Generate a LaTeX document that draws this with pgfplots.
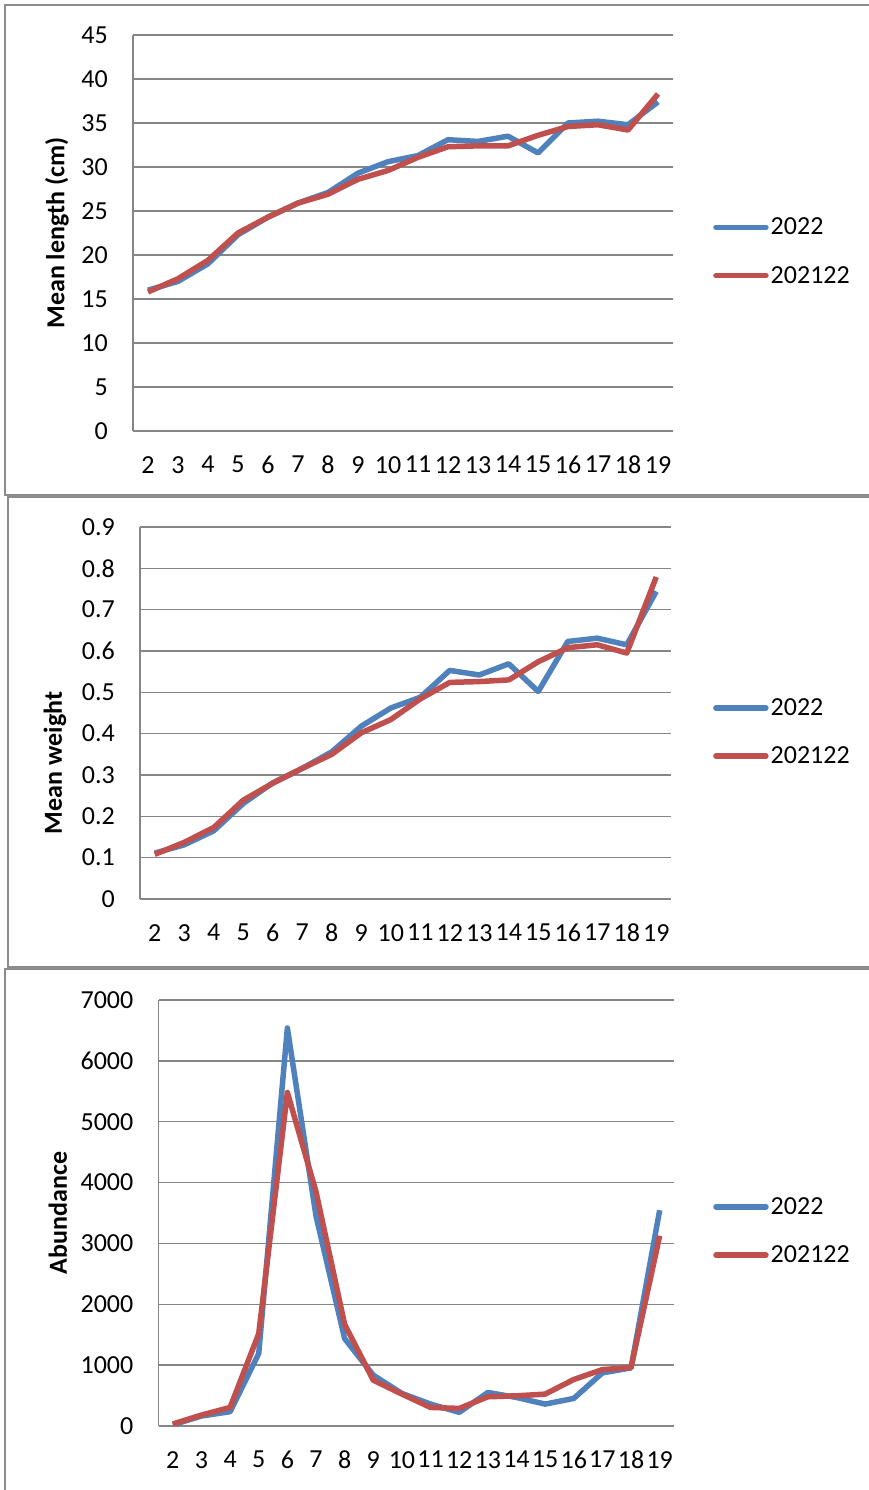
\documentclass[border=0pt]{standalone}
\usepackage{pgfplots}
\pgfplotsset{compat=1.18}
\usepackage{fontspec}
\setmainfont{Carlito}
\definecolor{sblue}{HTML}{4F81BD}
\definecolor{sred}{HTML}{C0504D}
\definecolor{gridgray}{HTML}{868686}
\definecolor{framegray}{HTML}{8C8C8C}
\newcommand{\chf}{\fontsize{26}{30}\selectfont}
\pgfplotsset{
  panel/.style={
    scale only axis,
    xmin=1.5, xmax=19.5,
    xtick={2,3,4,5,6,7,8,9,10,11,12,13,14,15,16,17,18,19},
    xticklabels={2,3,4,5,6,7,8,9,10,11,12,13,14,15,16,17,18,19},
    ymajorgrids,
    grid style={gridgray, line width=1.5pt},
    axis x line*=bottom, axis y line*=left,
    axis line style={gridgray, line width=1.5pt, -},
    major tick length=0pt,
    tick style={draw=none},
    /pgf/number format/assume math mode=true,
    ticklabel style={font=\chf, inner sep=0pt},
    yticklabel style={anchor=east, xshift=-25pt},
    xticklabel style={anchor=north, yshift=-25pt},
    label style={font=\chf\bfseries},
    legend style={draw=none, fill=none, inner sep=0pt, font=\chf, row sep=26pt,
      cells={anchor=west}},
    legend image code/.code={\draw[#1, line cap=round] (0pt,0pt) -- (50pt,0pt);},
    every axis plot/.append style={line width=5.5pt, line join=round, mark=none},
  }
}
\begin{document}
\begin{tikzpicture}
\useasboundingbox (0pt,0pt) rectangle (869pt,1490pt);
\draw[framegray, line width=1.5pt] (5pt,1485pt) rectangle (875pt,995pt);
\draw[framegray, line width=1.5pt] (8pt,993pt) rectangle (875pt,523pt);
\draw[framegray, line width=1.5pt] (5pt,521pt) rectangle (875pt,-5pt);

% Panel 1: mean length
\begin{axis}[panel, at={(133pt,1059pt)}, anchor=south west,
  width=540pt, height=396pt,
  ymin=0, ymax=45, ytick={0,5,10,15,20,25,30,35,40,45},
  yticklabels={0,5,10,15,20,25,30,35,40,45},
  ylabel={Mean length (cm)},
  ylabel style={at={(axis description cs:-0.1407,0.5)}, anchor=center},
  legend style={at={(axis description cs:1.0741,0.4533)}, anchor=west}]
\addplot[sblue] coordinates {(2,16.0)(3,17.0)(4,19.0)(5,22.3)(6,24.3)(7,25.9)(8,27.1)(9,29.3)(10,30.6)(11,31.3)(12,33.1)(13,32.9)(14,33.5)(15,31.6)(16,35.0)(17,35.2)(18,34.8)(19,37.4)};
\addplot[sred] coordinates {(2,15.8)(3,17.3)(4,19.4)(5,22.5)(6,24.3)(7,25.9)(8,26.9)(9,28.6)(10,29.6)(11,31.1)(12,32.3)(13,32.4)(14,32.4)(15,33.6)(16,34.6)(17,34.8)(18,34.2)(19,38.3)};
\legend{2022,202122}
\end{axis}

% Panel 2: mean weight
\begin{axis}[panel, at={(140pt,591pt)}, anchor=south west,
  width=531pt, height=372pt,
  ymin=0, ymax=0.9, ytick={0,0.1,0.2,0.3,0.4,0.5,0.6,0.7,0.8,0.9},
  yticklabels={0,0.1,0.2,0.3,0.4,0.5,0.6,0.7,0.8,0.9},
  ylabel={Mean weight},
  ylabel style={at={(axis description cs:-0.160,0.3656)}, anchor=center},
  legend style={at={(axis description cs:1.079,0.449)}, anchor=west}]
\addplot[sblue] coordinates {(2,0.111)(3,0.131)(4,0.165)(5,0.231)(6,0.281)(7,0.316)(8,0.356)(9,0.418)(10,0.462)(11,0.488)(12,0.553)(13,0.542)(14,0.569)(15,0.502)(16,0.623)(17,0.631)(18,0.615)(19,0.744)};
\addplot[sred] coordinates {(2,0.108)(3,0.137)(4,0.173)(5,0.239)(6,0.280)(7,0.316)(8,0.350)(9,0.402)(10,0.434)(11,0.484)(12,0.524)(13,0.526)(14,0.530)(15,0.574)(16,0.608)(17,0.615)(18,0.595)(19,0.779)};
\legend{2022,202122}
\end{axis}

% Panel 3: abundance
\begin{axis}[panel, at={(158.5pt,64pt)}, anchor=south west,
  width=515.5pt, height=426pt,
  ymin=0, ymax=7000, ytick={0,1000,2000,3000,4000,5000,6000,7000},
  yticklabels={0,1000,2000,3000,4000,5000,6000,7000},
  ylabel={Abundance},
  ylabel style={at={(axis description cs:-0.195,0.5)}, anchor=center},
  legend style={at={(axis description cs:1.0757,0.4577)}, anchor=west}]
\addplot[sblue] coordinates {(2,20)(3,164)(4,235)(5,1190)(6,6540)(7,3450)(8,1435)(9,835)(10,535)(11,360)(12,224)(13,551)(14,469)(15,360)(16,453)(17,873)(18,955)(19,3546)};
\addplot[sred] coordinates {(2,33)(3,180)(4,305)(5,1517)(6,5480)(7,3850)(8,1669)(9,753)(10,524)(11,305)(12,289)(13,480)(14,496)(15,524)(16,764)(17,927)(18,960)(19,3126)};
\legend{2022,202122}
\end{axis}
\end{tikzpicture}
\end{document}
